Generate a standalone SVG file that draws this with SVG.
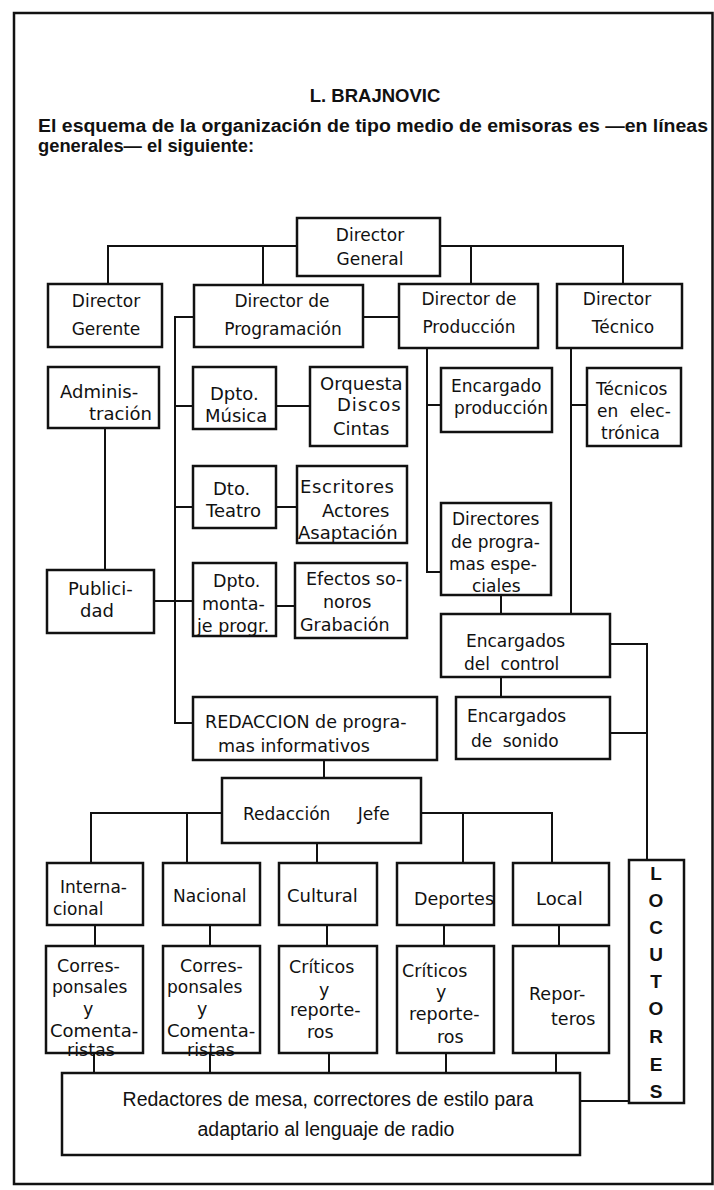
<svg xmlns="http://www.w3.org/2000/svg" width="714" height="1190" viewBox="0 0 714 1190">
<style>
.bx{fill:#fff;stroke:#111;stroke-width:2.5}
.ln{fill:none;stroke:#111;stroke-width:2}
.t{font-family:"DejaVu Sans",sans-serif;font-size:17.5px;fill:#111}
.d{font-size:17px}
.l{font-size:18px}
.h{font-family:"Liberation Sans",Arial,sans-serif;font-weight:bold;fill:#111}
.r{font-family:"Liberation Sans",Arial,sans-serif;font-size:19.5px;fill:#111}
</style>
<rect x="0" y="0" width="714" height="1190" fill="#fff"/>
<rect x="14" y="13" width="698.5" height="1171" fill="none" stroke="#111" stroke-width="2.5"/>
<text class="h" x="375" y="102" font-size="18.5" text-anchor="middle">L. BRAJNOVIC</text>
<text class="h" x="38" y="132" font-size="18" textLength="670" lengthAdjust="spacingAndGlyphs">El esquema de la organización de tipo medio de emisoras es —en líneas</text>
<text class="h" x="38" y="152" font-size="18" textLength="216" lengthAdjust="spacingAndGlyphs">generales— el siguiente:</text>
<g id="connectors">
<path class="ln" d="M297,246 H108 V284 M263,246 V285 M440,246 H623 V284 M471,246 V284"/>
<path class="ln" d="M363,317 H399 M194,317 H175 V723 H193 M175,406 H193 M175,507 H193 M154,601 H193"/>
<path class="ln" d="M276,406 H310 M276,507 H297 M276,606 H295 M105,428 V570"/>
<path class="ln" d="M427,348 V572 H441 M427,405 H441 M571,348 V614 M571,405 H587 M501,595 V614 M501,677 V697"/>
<path class="ln" d="M610,644 H647 V860 M610,733 H647 M580,1101 H629"/>
<path class="ln" d="M324,760 V778 M222,813 H91 V863 M187,813 V863 M317,843 V863 M421,813 H552 V863 M463,813 V863"/>
<path class="ln" d="M95,925 V946 M210,925 V946 M327,925 V946 M444,925 V946 M559,925 V946"/>
<path class="ln" d="M94,1053 V1073 M210,1053 V1073 M329,1053 V1073 M446,1053 V1073 M556,1053 V1073"/>
</g>
<g id="director-general"><rect class="bx" x="297" y="218" width="143" height="58"/>
<text class="t d" x="370" y="241" text-anchor="middle">Director</text><text class="t d" x="370" y="265" text-anchor="middle">General</text></g>
<g id="director-gerente"><rect class="bx" x="48" y="284" width="114" height="63"/>
<text class="t d" x="106" y="307" text-anchor="middle">Director</text><text class="t d" x="106" y="335" text-anchor="middle">Gerente</text></g>
<g id="director-programacion"><rect class="bx" x="194" y="285" width="169" height="62"/>
<text class="t d" x="282" y="307" text-anchor="middle">Director de</text><text class="t d" x="283" y="335" text-anchor="middle">Programación</text></g>
<g id="director-produccion"><rect class="bx" x="399" y="284" width="139" height="64"/>
<text class="t d" x="469" y="305" text-anchor="middle">Director de</text><text class="t d" x="469" y="333" text-anchor="middle">Producción</text></g>
<g id="director-tecnico"><rect class="bx" x="557" y="284" width="125" height="64"/>
<text class="t d" x="617" y="305" text-anchor="middle">Director</text><text class="t d" x="623" y="333" text-anchor="middle">Técnico</text></g>
<g id="administracion"><rect class="bx" x="48" y="367" width="111" height="61"/>
<text class="t l" x="60" y="398">Adminis-</text><text class="t l" x="89" y="420">tración</text></g>
<g id="publicidad"><rect class="bx" x="47" y="570" width="107" height="63"/>
<text class="t l" x="68" y="595">Publici-</text><text class="t l" x="80" y="617">dad</text></g>
<g id="dpto-musica"><rect class="bx" x="193" y="367" width="83" height="62"/>
<text class="t l" x="210" y="400">Dpto.</text><text class="t l" x="205" y="422">Música</text></g>
<g id="orquesta"><rect class="bx" x="310" y="367" width="97" height="79"/>
<text class="t l" x="320" y="390">Orquesta</text><text class="t l" x="337" y="411" letter-spacing="1">Discos</text><text class="t l" x="333" y="435">Cintas</text></g>
<g id="dto-teatro"><rect class="bx" x="193" y="466" width="83" height="62"/>
<text class="t l" x="213" y="495">Dto.</text><text class="t l" x="206" y="517">Teatro</text></g>
<g id="escritores"><rect class="bx" x="297" y="466" width="110" height="77"/>
<text class="t l" x="300" y="493" letter-spacing="0.6">Escritores</text><text class="t l" x="322" y="517">Actores</text><text class="t l" x="298" y="539">Asaptación</text></g>
<g id="dpto-montaje"><rect class="bx" x="193" y="563" width="83" height="73"/>
<text class="t" x="213" y="587">Dpto.</text><text class="t" x="202" y="610">monta-</text><text class="t" x="197" y="632">je progr.</text></g>
<g id="efectos"><rect class="bx" x="295" y="563" width="112" height="75"/>
<text class="t" x="306" y="585">Efectos so-</text><text class="t" x="323" y="608">noros</text><text class="t" x="300" y="631">Grabación</text></g>
<g id="encargado-produccion"><rect class="bx" x="441" y="368" width="111" height="64"/>
<text class="t d" x="451" y="392">Encargado</text><text class="t d" x="454" y="414">producción</text></g>
<g id="tecnicos-electronica"><rect class="bx" x="587" y="368" width="94" height="78"/>
<text class="t d" x="596" y="395">Técnicos</text><text class="t d" x="597" y="417" word-spacing="6">en elec-</text><text class="t d" x="601" y="439">trónica</text></g>
<g id="directores-programas"><rect class="bx" x="441" y="503" width="110" height="92"/>
<text class="t d" x="452" y="525">Directores</text><text class="t d" x="451" y="548">de progra-</text><text class="t d" x="449" y="570">mas espe-</text><text class="t d" x="472" y="592">ciales</text></g>
<g id="encargados-control"><rect class="bx" x="441" y="614" width="169" height="63"/>
<text class="t d" x="466" y="647">Encargados</text><text class="t d" x="464" y="670" word-spacing="5">del control</text></g>
<g id="encargados-sonido"><rect class="bx" x="456" y="697" width="154" height="62"/>
<text class="t d" x="467" y="722">Encargados</text><text class="t d" x="471" y="747" word-spacing="5">de sonido</text></g>
<g id="redaccion-programas"><rect class="bx" x="193" y="697" width="244" height="63"/>
<text class="t" x="205" y="728">REDACCION de progra-</text><text class="t" x="218" y="752">mas informativos</text></g>
<g id="redaccion-jefe"><rect class="bx" x="222" y="778" width="199" height="65"/>
<text class="t d" x="243" y="820" word-spacing="22">Redacción Jefe</text></g>
<g id="internacional"><rect class="bx" x="47" y="863" width="96" height="62"/>
<text class="t d" x="60" y="893">Interna-</text><text class="t d" x="53" y="915">cional</text></g>
<g id="nacional"><rect class="bx" x="163" y="863" width="97" height="62"/>
<text class="t d" x="173" y="902">Nacional</text></g>
<g id="cultural"><rect class="bx" x="279" y="863" width="98" height="62"/>
<text class="t l" x="287" y="902">Cultural</text></g>
<g id="deportes"><rect class="bx" x="397" y="863" width="97" height="62"/>
<text class="t" x="414" y="905">Deportes</text></g>
<g id="local"><rect class="bx" x="513" y="863" width="96" height="62"/>
<text class="t l" x="536" y="905">Local</text></g>
<g id="corresponsales-1"><rect class="bx" x="46" y="946" width="97" height="107"/>
<text class="t" x="57" y="972">Corres-</text><text class="t d" x="52" y="993">ponsales</text><text class="t" x="83" y="1015">y</text><text class="t l" x="50" y="1037">Comenta-</text><text class="t" x="67" y="1056">ristas</text></g>
<g id="corresponsales-2"><rect class="bx" x="163" y="946" width="97" height="107"/>
<text class="t" x="180" y="972">Corres-</text><text class="t d" x="167" y="993">ponsales</text><text class="t" x="197" y="1015">y</text><text class="t l" x="167" y="1037">Comenta-</text><text class="t" x="187" y="1056">ristas</text></g>
<g id="criticos-1"><rect class="bx" x="279" y="946" width="98" height="107"/>
<text class="t" x="289" y="973">Críticos</text><text class="t" x="319" y="996">y</text><text class="t" x="290" y="1016">reporte-</text><text class="t" x="307" y="1038">ros</text></g>
<g id="criticos-2"><rect class="bx" x="397" y="946" width="97" height="107"/>
<text class="t" x="402" y="977">Críticos</text><text class="t" x="436" y="998">y</text><text class="t" x="409" y="1020">reporte-</text><text class="t" x="437" y="1043">ros</text></g>
<g id="reporteros"><rect class="bx" x="513" y="946" width="96" height="107"/>
<text class="t" x="529" y="1000">Repor-</text><text class="t" x="551" y="1025">teros</text></g>
<g id="locutores"><rect class="bx" x="629" y="860" width="55" height="243"/>
<g class="h" font-size="19" text-anchor="middle">
<text x="656" y="880">L</text><text x="656" y="907">O</text><text x="656" y="934">C</text><text x="656" y="961">U</text><text x="656" y="988">T</text><text x="656" y="1015">O</text><text x="656" y="1043">R</text><text x="656" y="1071">E</text><text x="656" y="1098">S</text></g></g>
<g id="redactores-mesa"><rect class="bx" x="62" y="1073" width="518" height="82"/>
<text class="r" x="328" y="1106" text-anchor="middle">Redactores de mesa, correctores de estilo para</text>
<text class="r" x="326" y="1136" text-anchor="middle">adaptario al lenguaje de radio</text></g>
</svg>
